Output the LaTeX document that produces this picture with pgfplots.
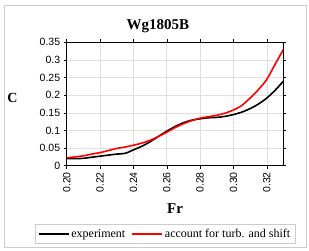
\documentclass[border=0pt]{standalone}
\usepackage{pgfplots}
\pgfplotsset{compat=1.18}
\usepackage{fontspec}
\setmainfont{Liberation Serif}
\newfontfamily\arial{Liberation Sans}
\begin{document}
\begin{tikzpicture}[x=1pt,y=1pt]
\useasboundingbox (0,0) rectangle (309,250);
\draw[gray!40, line width=0.8pt] (4,3) rectangle (306,245);
\begin{axis}[
  at={(66.7pt,84.3pt)}, anchor=south west,
  scale only axis, width=216.8pt, height=123.4pt,
  xmin=0.20, xmax=0.33, ymin=0, ymax=0.35,
  xtick={0.20,0.22,0.24,0.26,0.28,0.30,0.32},
  xticklabels={0.20,0.22,0.24,0.26,0.28,0.30,0.32},
  ytick={0,0.05,0.1,0.15,0.2,0.25,0.3,0.35},
  yticklabels={0,0.05,0.1,0.15,0.2,0.25,0.3,0.35},
  x tick label style={rotate=90, anchor=east, font=\arial\fontsize{10.5}{12}\selectfont},
  y tick label style={font=\arial\fontsize{10.5}{12}\selectfont},
  tick align=outside, major tick length=3pt,
  tick style={black, line width=0.5pt},
  grid=major, grid style={gray!25, line width=0.6pt},
  axis line style={black, line width=0.8pt},
  title={\bfseries Wg1805B},
  title style={font=\fontsize{15}{17}\selectfont, at={(0.42,1.0)}, yshift=0pt},
  xlabel={\bfseries Fr},
  xlabel style={font=\fontsize{15}{17}\selectfont, yshift=-4pt},
  ylabel={\bfseries C},
  ylabel style={font=\fontsize{14}{16}\selectfont, rotate=-90, anchor=center, at={(-0.25,0.55)}},
  legend columns=2,
  legend style={at={(-0.146,-0.475)}, anchor=north west, draw=gray!40,
    font=\fontsize{12}{14}\selectfont, inner sep=2.5pt,
    /tikz/every even column/.style={column sep=4pt}},
  legend cell align=left,
  legend image code/.code={\draw[#1, line width=1.6pt] (0pt,0pt) -- (30pt,0pt);},
]
\addplot[black, line width=1.6pt, smooth] coordinates {
(0.200,0.020) (0.205,0.020) (0.210,0.021) (0.215,0.024) (0.220,0.027)
(0.225,0.030) (0.230,0.033) (0.235,0.035) (0.240,0.045) (0.245,0.055)
(0.250,0.068) (0.255,0.083) (0.260,0.098) (0.265,0.111) (0.270,0.122)
(0.275,0.129) (0.280,0.133) (0.285,0.136) (0.290,0.137) (0.295,0.140)
(0.300,0.145) (0.305,0.152) (0.310,0.162) (0.315,0.175) (0.320,0.192)
(0.325,0.214) (0.330,0.240)};
\addlegendentry{experiment}
\addplot[red, line width=1.6pt, smooth] coordinates {
(0.200,0.022) (0.205,0.025) (0.210,0.028) (0.215,0.033) (0.220,0.037)
(0.225,0.043) (0.230,0.049) (0.235,0.053) (0.240,0.058) (0.245,0.064)
(0.250,0.072) (0.255,0.083) (0.260,0.095) (0.265,0.108) (0.270,0.119)
(0.275,0.128) (0.280,0.135) (0.285,0.139) (0.290,0.143) (0.295,0.149)
(0.300,0.158) (0.305,0.171) (0.310,0.192) (0.315,0.216) (0.320,0.245)
(0.325,0.288) (0.330,0.330)};
\addlegendentry{account for turb. and shift}
\end{axis}
\end{tikzpicture}
\end{document}
